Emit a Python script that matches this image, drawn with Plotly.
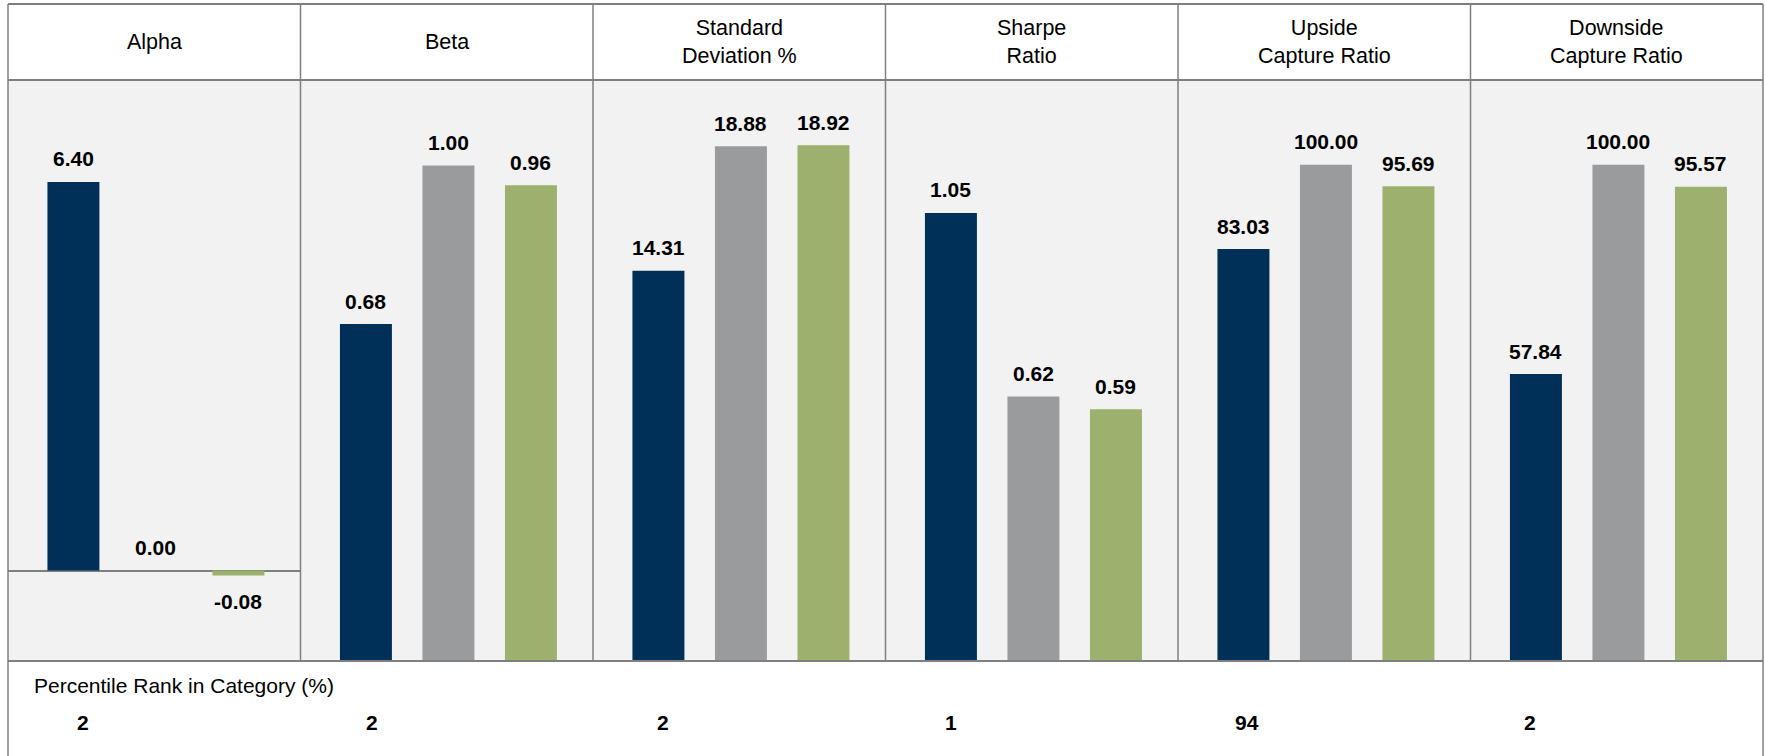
import plotly.graph_objects as go
from plotly.subplots import make_subplots

# ---- data -------------------------------------------------------------
METRICS = ["Alpha", "Beta", "Standard<br>Deviation %", "Sharpe<br>Ratio",
           "Upside<br>Capture Ratio", "Downside<br>Capture Ratio"]
FUND = [6.40, 0.68, 14.31, 1.05, 83.03, 57.84]
BENCHMARK = [0.00, 1.00, 18.88, 0.62, 100.00, 100.00]
CATEGORY = [-0.08, 0.96, 18.92, 0.59, 95.69, 95.57]
PERCENTILE_RANK = [2, 2, 2, 1, 94, 2]

# ---- layout constants -------------------------------------------------
W, H = 1765, 756
L, R, T, B = 8, 2, 80, 95
PW, PH = W - L - R, H - T - B
FONT = "Liberation Sans, Arial, sans-serif"
BORDER = "#7F7F7F"
COLORS = ["#003057", "#9A9B9D", "#9DB06D"]
Y_RANGES = [[-1.49, 8.08], [0, 1.1726], [0, 21.31], [0, 1.3617], [0, 117.1], [0, 117.1]]
X_RANGE = [-0.793, 2.752]
RANK_X_PX = [83, 372, 663, 951, 1247, 1530]


def px_x(p):
    return (p - L) / PW


def px_y(p):
    return (H - B - p) / PH


fig = make_subplots(rows=1, cols=6, horizontal_spacing=0)

for i in range(len(METRICS)):
    vals = [FUND[i], BENCHMARK[i], CATEGORY[i]]
    fig.add_trace(
        go.Bar(x=[0, 1, 2], y=vals, width=0.63,
               marker=dict(color=COLORS, line=dict(width=0)),
               showlegend=False, hoverinfo="skip"),
        row=1, col=i + 1,
    )
    xr = "x" if i == 0 else f"x{i + 1}"
    yr = "y" if i == 0 else f"y{i + 1}"
    for j, v in enumerate(vals):
        fig.add_annotation(
            x=j, y=v, xref=xr, yref=yr, text=f"<b>{v:.2f}</b>",
            showarrow=False, yanchor="middle",
            yshift=23 if v >= 0 else -26,
            font=dict(family=FONT, size=21, color="#000000"),
        )
    # column header
    fig.add_annotation(
        x=(i + 0.5) / 6, y=px_y(42), xref="paper", yref="paper",
        text=METRICS[i], showarrow=False, xanchor="center", yanchor="middle",
        font=dict(family=FONT, size=21.5, color="#000000"),
    )
    # percentile rank value
    fig.add_annotation(
        x=px_x(RANK_X_PX[i]), y=px_y(722), xref="paper", yref="paper",
        text=f"<b>{PERCENTILE_RANK[i]}</b>", showarrow=False,
        xanchor="center", yanchor="middle",
        font=dict(family=FONT, size=21, color="#000000"),
    )
    fig.update_yaxes(range=Y_RANGES[i], row=1, col=i + 1)

fig.add_annotation(
    x=px_x(32), y=px_y(685), xref="paper", yref="paper",
    text="Percentile Rank in Category (%)", showarrow=False,
    xanchor="left", yanchor="middle",
    font=dict(family=FONT, size=21, color="#000000"),
)

fig.update_xaxes(range=X_RANGE, showticklabels=False, showgrid=False,
                 zeroline=False, showline=False, ticks="", fixedrange=True)
fig.update_yaxes(showticklabels=False, showgrid=False, zeroline=False,
                 showline=False, ticks="", fixedrange=True)
fig.update_yaxes(zeroline=True, zerolinecolor=BORDER, zerolinewidth=2, row=1, col=1)

# table borders
shapes = []
shapes.append(dict(type="line", xref="paper", yref="paper", x0=0, x1=1,
                   y0=px_y(4), y1=px_y(4), line=dict(color=BORDER, width=2)))
shapes.append(dict(type="line", xref="paper", yref="paper", x0=0, x1=1,
                   y0=1, y1=1, line=dict(color=BORDER, width=2)))
shapes.append(dict(type="line", xref="paper", yref="paper", x0=0, x1=1,
                   y0=0, y1=0, line=dict(color=BORDER, width=2)))
for k in range(7):
    bottom = px_y(H + 5) if k in (0, 6) else 0
    shapes.append(dict(type="line", xref="paper", yref="paper", x0=k / 6, x1=k / 6,
                       y0=bottom, y1=px_y(4), line=dict(color=BORDER, width=1.5)))
for s in shapes:
    s["layer"] = "above"

fig.update_layout(
    width=W, height=H,
    margin=dict(l=L, r=R, t=T, b=B, pad=0),
    paper_bgcolor="#FFFFFF", plot_bgcolor="#F2F2F2",
    barmode="group", shapes=shapes,
    font=dict(family=FONT, color="#000000"),
)

fig.write_html("out.html")
